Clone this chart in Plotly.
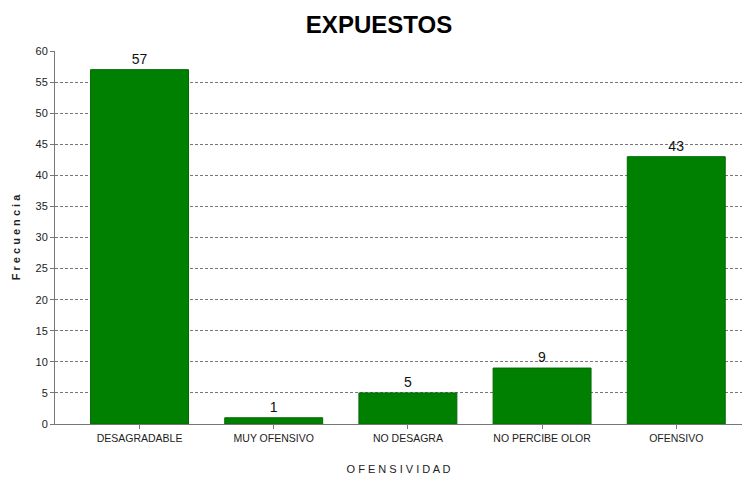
import plotly.graph_objects as go

categories = ["DESAGRADABLE", "MUY OFENSIVO", "NO DESAGRA", "NO PERCIBE OLOR", "OFENSIVO"]
values = [57, 1, 5, 9, 43]
y_ticks = list(range(0, 61, 5))

fig = go.Figure(go.Bar(
    x=categories, y=values,
    marker=dict(color="#008000", line=dict(color="#006a00", width=1)),
    width=0.73,
    text=[str(v) for v in values], textposition="outside",
    textfont=dict(family="Liberation Sans, Arial", size=14, color="#111"),
    cliponaxis=False,
))

fig.update_layout(
    width=742, height=473,
    margin=dict(l=44, r=8, t=43, b=57),
    paper_bgcolor="white", plot_bgcolor="white",
    showlegend=False,
    title=dict(text="<b>EXPUESTOS</b>", x=0.5, xanchor="center", y=0.965, yanchor="middle",
               font=dict(family="Liberation Sans, Arial", size=24, color="#000")),
    xaxis=dict(
        type="category", range=[-0.63, 4.49],
        showline=True, linecolor="#777", linewidth=1,
        ticks="outside", ticklen=4, tickcolor="#777",
        tickfont=dict(family="Liberation Sans Narrow, Liberation Sans, Arial", size=10.5, color="#222"),
        title=dict(text="O F E N S I V I D A D", standoff=22,
                   font=dict(family="Liberation Sans, Arial", size=11, color="#222")),
        showgrid=False,
    ),
    yaxis=dict(
        range=[0, 60], tickvals=y_ticks,
        showline=True, linecolor="#777", linewidth=1,
        ticks="outside", ticklen=4, tickcolor="#777",
        tickfont=dict(family="Liberation Sans Narrow, Liberation Sans, Arial", size=11, color="#222"),
        showgrid=True, gridcolor="#777", griddash="3px,2px", gridwidth=1,
        zeroline=False,
        title=dict(text="<b>F r e c u e n c i a</b>", standoff=12,
                   font=dict(family="Liberation Sans, Arial", size=11, color="#222")),
    ),
)

fig.write_html("out.html")
